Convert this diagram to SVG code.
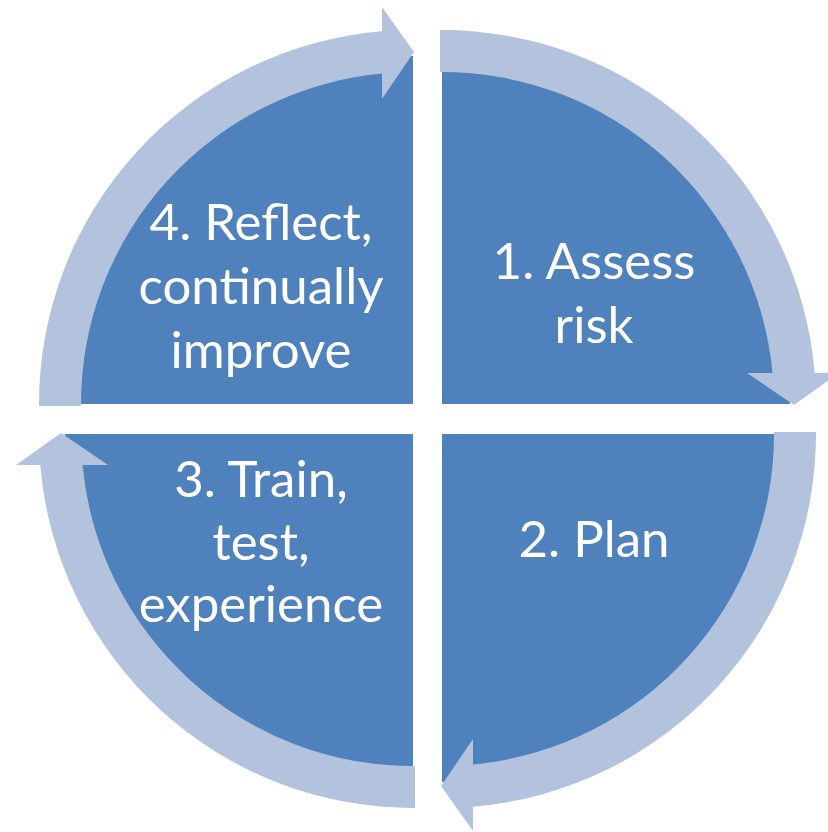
<svg xmlns="http://www.w3.org/2000/svg" width="828" height="832" viewBox="0 0 828 832">
  <defs>
    <style>
      .quad { fill: #4F81BD; }
      .ring { fill: #B3C2DD; }
      .lbl { font-family: Lato, "Open Sans", "Liberation Sans", sans-serif; font-size: 51px; fill: #FFFFFF; text-anchor: middle; }
    </style>
    <path id="arc-arrow" d="M -374 2 A 374 374 0 0 1 -31 -372.7 L -31 -397 L 1 -352 L -31 -305 L -31 -330.5 A 332 332 0 0 0 -332 2 Z"/>
  </defs>
  <rect width="828" height="832" fill="#FFFFFF"/>

  <g id="node-1">
    <path class="quad" d="M 442 404 L 442 56 A 348 348 0 0 1 790 404 Z"/>
    <text class="lbl" x="594" y="279">1. Assess</text>
    <text class="lbl" x="594" y="343">risk</text>
  </g>
  <g id="node-2">
    <path class="quad" d="M 442 434 L 790 434 A 348 348 0 0 1 442 782 Z"/>
    <text class="lbl" x="594" y="557">2. Plan</text>
  </g>
  <g id="node-3">
    <path class="quad" d="M 413 434 L 413 782 A 348 348 0 0 1 65 434 Z"/>
    <text class="lbl" x="261" y="497">3. Train,</text>
    <text class="lbl" x="261" y="560">test,</text>
    <text class="lbl" x="261" y="622">experience</text>
  </g>
  <g id="node-4">
    <path class="quad" d="M 413 404 L 65 404 A 348 348 0 0 1 413 56 Z"/>
    <text class="lbl" x="261" y="240">4. Reflect,</text>
    <text class="lbl" x="261" y="304">continually</text>
    <text class="lbl" x="261" y="368">improve</text>
  </g>

  <g id="connectors">
    <use href="#arc-arrow" class="ring" transform="translate(413 404)"/>
    <use href="#arc-arrow" class="ring" transform="translate(442 404) rotate(90)"/>
    <use href="#arc-arrow" class="ring" transform="translate(442 434) rotate(180)"/>
    <use href="#arc-arrow" class="ring" transform="translate(413 434) rotate(270)"/>
  </g>
</svg>
